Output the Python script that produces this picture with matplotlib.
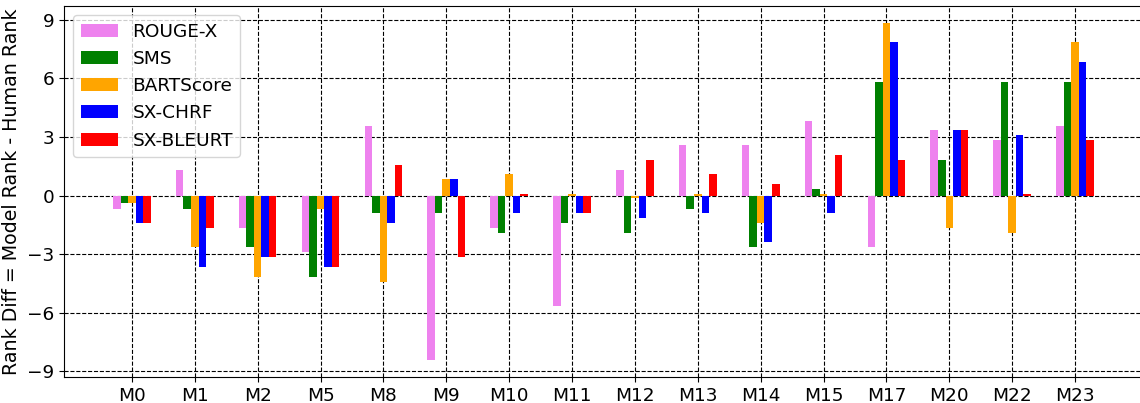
import numpy as np
import matplotlib
matplotlib.use("Agg")
import matplotlib.pyplot as plt

# Models on the x axis
models = ["M0", "M1", "M2", "M5", "M8", "M9", "M10", "M11", "M12",
          "M13", "M14", "M15", "M17", "M20", "M22", "M23"]

# Rank diff per metric
rouge_x = [-0.66, 1.33, -1.67, -2.90, 3.58, -8.42, -1.67, -5.66, 1.33,
           2.61, 2.61, 3.83, -2.64, 3.37, 2.86, 3.58]
sms = [-0.37, -0.66, -2.64, -4.17, -0.90, -0.90, -1.93, -1.41, -1.93,
       -0.66, -2.64, 0.36, 5.83, 1.84, 5.83, 5.83]
bartscore = [-0.37, -2.64, -4.17, -0.66, -4.43, 0.87, 1.12, 0.10, -0.14,
             0.10, -1.41, 0.10, 8.84, -1.67, -1.93, 7.87]
sx_chrf = [-1.41, -3.66, -3.15, -3.66, -1.41, 0.87, -0.90, -0.90, -1.16,
           -0.90, -2.39, -0.90, 7.87, 3.37, 3.12, 6.85]
sx_bleurt = [-1.41, -1.67, -3.15, -3.66, 1.58, -3.15, 0.10, -0.90, 1.84,
             1.12, 0.61, 2.10, 1.84, 3.37, 0.10, 2.86]

series = [("ROUGE-X", rouge_x, "violet"),
          ("SMS", sms, "green"),
          ("BARTScore", bartscore, "orange"),
          ("SX-CHRF", sx_chrf, "blue"),
          ("SX-BLEURT", sx_bleurt, "red")]

fig = plt.figure(figsize=(11.4, 4.03), dpi=100)
ax = fig.add_axes([0.0561, 0.0645, 0.9465, 0.9205])

x = np.arange(len(models))
width = 0.12
for i, (name, vals, color) in enumerate(series):
    ax.bar(x + (i - 2) * width, vals, width, color=color, label=name)

ax.set_xticks(x)
ax.set_xticklabels(models, fontsize=13.3)
ax.set_yticks([-9, -6, -3, 0, 3, 6, 9])
ax.tick_params(axis="y", labelsize=13.3)
ax.set_ylabel("Rank Diff = Model Rank - Human Rank", fontsize=13.7)

ax.grid(True, color="black", linestyle="--", linewidth=0.8)
ax.set_axisbelow(True)

ax.legend(loc="upper left", fontsize=13.3)

plt.savefig("out.png", dpi=100)
